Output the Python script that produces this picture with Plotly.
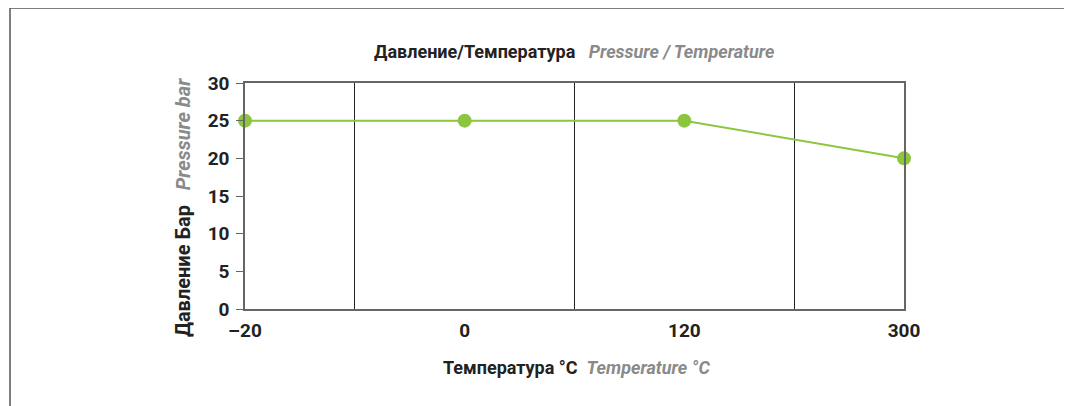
import plotly.graph_objects as go

temps = ["–20", "0", "120", "300"]
pressure = [25, 25, 25, 20]
y_ticks = [0, 5, 10, 15, 20, 25, 30]

FONT = "Liberation Sans Narrow, Roboto, Arial, sans-serif"
GREEN = "#8cc63f"
GRAY_TXT = "#8a8a8a"

idx = list(range(len(temps)))

fig = go.Figure()
fig.add_trace(go.Scatter(
    x=idx, y=pressure, mode="lines+markers",
    line=dict(color=GREEN, width=2),
    marker=dict(color=GREEN, size=14),
    cliponaxis=False, showlegend=False,
))

# page body has an 8px margin: figure coordinates = screenshot coordinates - 8
OFF = 8
W, H = 1072, 406
L, R, T, B = 245 - OFF, 904 - OFF, 83 - OFF, 309 - OFF

fig.update_layout(
    width=W, height=H,
    margin=dict(l=L, r=W - R, t=T, b=H - B),
    paper_bgcolor="white", plot_bgcolor="white",
    font=dict(family=FONT, color="#222", size=16),
    xaxis=dict(
        range=[0, 3], tickmode="array", tickvals=idx, ticktext=[f"<b>{t}</b>" for t in temps],
        showgrid=False, zeroline=False, showline=True, mirror=True,
        linecolor="#666", linewidth=1.5, ticks="", ticklabelstandoff=3,
        tickfont=dict(size=19, family=FONT, color="#222"),
        minor=dict(tick0=0.5, dtick=1, showgrid=True, gridcolor="#222", gridwidth=1, ticks=""),
        fixedrange=True,
    ),
    yaxis=dict(
        range=[0, 30], tickmode="array", tickvals=y_ticks, ticktext=[f"<b>{v}</b>" for v in y_ticks],
        showgrid=False, zeroline=False, showline=True, mirror=True,
        linecolor="#666", linewidth=1.5, ticks="outside", ticklen=7, tickcolor="#666",
        tickwidth=1, ticklabelstandoff=3,
        tickfont=dict(size=19, family=FONT, color="#222"),
    ),
)

def px_x(p):
    return (p - OFF - L) / (R - L)

def px_y(p):
    return (B - (p - OFF)) / (B - T)

fig.add_annotation(
    x=px_x(574), y=px_y(52), xref="paper", yref="paper", showarrow=False,
    xanchor="center", yanchor="middle",
    text=f"<b>Давление/Температура</b>   <span style='color:{GRAY_TXT}'><b><i>Pressure / Temperature</i></b></span>",
    font=dict(size=18, family=FONT, color="#222"),
)
fig.add_annotation(
    x=px_x(576), y=px_y(367), xref="paper", yref="paper", showarrow=False,
    xanchor="center", yanchor="middle",
    text=f"<b>Температура °C</b>  <span style='color:{GRAY_TXT}'><b><i>Temperature °C</i></b></span>",
    font=dict(size=18, family=FONT, color="#222"),
)
fig.add_annotation(
    x=px_x(183), y=px_y(208), xref="paper", yref="paper", showarrow=False,
    xanchor="center", yanchor="middle", textangle=-90,
    text=f"<b>Давление Бар</b>   <span style='color:{GRAY_TXT}'><b><i>Pressure bar</i></b></span>",
    font=dict(size=20, family=FONT, color="#222"),
)

# outer frame
fig.add_shape(type="rect", xref="paper", yref="paper",
              x0=px_x(10), x1=px_x(1090), y0=px_y(430), y1=px_y(8),
              line=dict(color="#555", width=1.5), layer="below")

fig.write_html("out.html")
